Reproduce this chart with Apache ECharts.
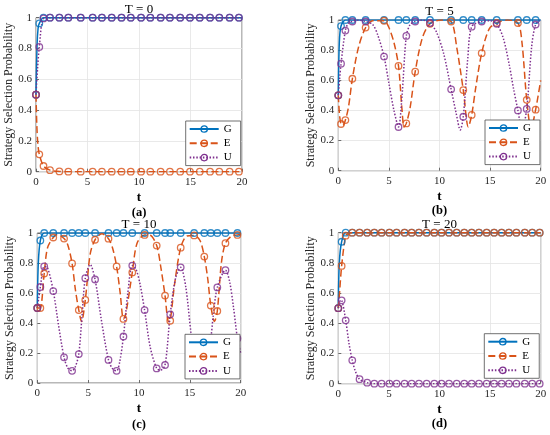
<!DOCTYPE html>
<html>
<head>
<meta charset="utf-8">
<script src="https://cdn.jsdelivr.net/npm/echarts@6/dist/echarts.min.js"></script>
<style>
  html, body { margin: 0; padding: 0; background: #fff; }
  #chart { width: 550px; height: 435px; }
</style>
</head>
<body>
<div id="chart"></div>
<script>
// ---- 数据：每个子图的标记点时刻（三条曲线共用）与各曲线取值 ----
// (a) T = 0
var tA = [0, 0.32, 0.73, 1.36, 2.27, 3.14, 4.34, 5.5, 6.4, 7.35, 8.3, 9.2,
          10.2, 11.1, 12.1, 13.0, 14.0, 14.95, 15.9, 16.9, 17.8, 18.8, 19.7];
var gA = [0.5, 0.963, 1, 1, 1, 1, 1, 1, 1, 1, 1, 1,
          1, 1, 1, 1, 1, 1, 1, 1, 1, 1, 1];
var eA = [0.5, 0.113, 0.037, 0.01, 0.002, 0, 0, 0, 0, 0, 0, 0,
          0, 0, 0, 0, 0, 0, 0, 0, 0, 0, 0];
var uA = [0.5, 0.81, 0.995, 1, 1, 1, 1, 1, 1, 1, 1, 1,
          1, 1, 1, 1, 1, 1, 1, 1, 1, 1, 1];
// 标记点之间的曲线拐点
var gAx = [[0.1, 0.82], [0.2, 0.93], [20, 1]];
var eAx = [[0.08, 0.3], [0.18, 0.18], [20, 0]];
var uAx = [[0.15, 0.67], [20, 1]];

// (b) T = 5
var tB = [0, 0.27, 0.7, 1.39, 2.7, 4.52, 5.95, 6.72, 7.6, 9.06, 11.15, 12.35,
          13.18, 14.17, 15.65, 17.75, 18.62, 19.5];
var gB = [0.5, 0.96, 1, 1, 1, 1, 1, 1, 1, 1, 1, 1,
          1, 1, 1, 1, 1, 1];
var eB = [0.5, 0.31, 0.336, 0.61, 0.95, 0.995, 0.695, 0.314, 0.657, 0.975, 0.99, 0.535,
          0.37, 0.78, 0.98, 0.98, 0.47, 0.405];
var uB = [0.5, 0.71, 0.93, 0.99, 0.99, 0.757, 0.29, 0.894, 0.99, 0.98, 0.54, 0.358,
          0.956, 0.99, 0.975, 0.40, 0.41, 0.97];
var gBx = [[0.1, 0.85], [20, 1]];
var eBx = [[0.12, 0.37], [0.45, 0.3], [1.0, 0.42], [2.0, 0.82], [3.4, 0.995], [5.0, 0.95],
           [5.5, 0.85], [6.3, 0.4], [6.5, 0.29], [7.1, 0.42], [8.3, 0.88], [10.2, 1.0],
           [11.7, 0.82], [12.85, 0.29], [13.6, 0.56], [14.9, 0.94], [16.7, 1.0],
           [18.15, 0.85], [19.05, 0.28], [20, 0.6]];
var uBx = [[0.12, 0.6], [1.0, 0.98], [2.0, 1.0], [3.4, 0.97], [3.9, 0.9], [5.0, 0.58],
           [5.5, 0.4], [6.3, 0.5], [7.1, 0.97], [8.3, 1.0], [9.7, 0.92], [10.4, 0.78],
           [11.65, 0.38], [12.05, 0.27], [12.8, 0.75], [15.0, 0.995], [16.3, 0.88],
           [16.9, 0.7], [17.3, 0.55], [18.15, 0.27], [19.1, 0.82], [20, 1.0]];

// (c) T = 10
var tC = [0, 0.3, 0.68, 1.57, 2.63, 3.42, 4.08, 4.72, 5.68, 7.0, 7.8, 8.47,
          9.34, 10.55, 11.74, 12.56, 13.07, 14.1, 15.42, 16.42, 17.06, 17.7, 18.5, 19.68];
var gC = [0.5, 0.95, 1, 1, 1, 1, 1, 1, 1, 1, 1, 1,
          1, 1, 1, 1, 1, 1, 1, 1, 1, 1, 1, 1];
var eC = [0.5, 0.5, 0.73, 0.97, 0.963, 0.797, 0.486, 0.554, 0.955, 0.962, 0.777, 0.427,
          0.737, 0.987, 0.916, 0.583, 0.415, 0.902, 0.984, 0.843, 0.516, 0.48, 0.932, 0.987];
var uC = [0.5, 0.64, 0.777, 0.613, 0.171, 0.081, 0.193, 0.699, 0.69, 0.154, 0.081, 0.31,
          0.783, 0.486, 0.097, 0.12, 0.458, 0.771, 0.2, 0.09, 0.3, 0.637, 0.752, 0.297];
var gCx = [[0.1, 0.8], [20, 1]];
var eCx = [[0.15, 0.5], [1.0, 0.9], [2.0, 0.99], [3.0, 0.92], [3.75, 0.62], [4.35, 0.41],
           [5.2, 0.86], [6.35, 0.995], [7.4, 0.9], [8.15, 0.6], [8.7, 0.46], [9.8, 0.93],
           [11.1, 0.985], [12.15, 0.77], [12.9, 0.41], [13.5, 0.66], [14.7, 0.98],
           [16.0, 0.95], [16.75, 0.7], [17.42, 0.41], [18.1, 0.8], [19.1, 0.98], [20, 0.99]];
var uCx = [[0.15, 0.57], [1.0, 0.77], [2.1, 0.38], [3.0, 0.1], [3.75, 0.11], [4.4, 0.45],
           [5.2, 0.79], [6.3, 0.42], [7.45, 0.09], [8.1, 0.14], [8.9, 0.6], [9.7, 0.76],
           [10.1, 0.66], [11.1, 0.24], [12.1, 0.085], [13.6, 0.7], [14.6, 0.64],
           [15.1, 0.34], [16.0, 0.08], [17.3, 0.45], [18.9, 0.68], [19.3, 0.5], [20, 0.2]];

// (d) T = 20
var tD = [0, 0.33, 0.73, 1.38, 2.1, 2.85, 3.56, 4.28, 5.05, 5.76, 6.55, 7.25, 7.97, 8.73,
          9.49, 10.2, 10.94, 11.7, 12.45, 13.18, 13.9, 14.66, 15.4, 16.14, 16.86, 17.6,
          18.43, 19.16, 19.9];
var gD = [0.5, 0.94, 1, 1, 1, 1, 1, 1, 1, 1, 1, 1, 1, 1,
          1, 1, 1, 1, 1, 1, 1, 1, 1, 1, 1, 1,
          1, 1, 1];
var eD = [0.5, 0.78, 0.98, 1, 1, 1, 1, 1, 1, 1, 1, 1, 1, 1,
          1, 1, 1, 1, 1, 1, 1, 1, 1, 1, 1, 1,
          1, 1, 1];
var uD = [0.5, 0.552, 0.42, 0.155, 0.03, 0.007, 0, 0, 0, 0, 0, 0, 0, 0,
          0, 0, 0, 0, 0, 0, 0, 0, 0, 0, 0, 0,
          0, 0, 0];
var gDx = [[0.1, 0.8], [20, 1]];
var eDx = [[0.12, 0.6], [1.0, 0.995], [20, 1]];
var uDx = [[0.12, 0.535], [0.22, 0.553], [1.05, 0.27], [1.7, 0.08], [20, 0]];

var seriesNames = ["G", "E", "U"];
var panelTitles = ["T = 0", "T = 5", "T = 10", "T = 20"];
var panelTags = ["(a)", "(b)", "(c)", "(d)"];
var xTicks = [0, 5, 10, 15, 20];
var yTicks = [0, 0.2, 0.4, 0.6, 0.8, 1];

// ---- 布局与样式 ----
var FONT = '"Liberation Serif", "Times New Roman", serif';
var INK = "#262626";
var BOX = "#4d4d4d";
var colors = ["#0072BD", "#D95319", "#7E2F8E"];
var dashes = ["solid", [7, 3.5], [1.5, 1.8]];

var layout = [
    { grid: { left: 36, top: 17.7, width: 206, height: 154 }, titleY: 9.5, tagY: 213, legend: { left: 185.7, top: 121 } },
    { grid: { left: 338.3, top: 20, width: 202.4, height: 150.7 }, titleY: 11.5, tagY: 211, legend: { left: 485, top: 120 } },
    { grid: { left: 37.3, top: 233, width: 203.4, height: 150 }, titleY: 224.3, tagY: 425, legend: { left: 185, top: 334.3 } },
    { grid: { left: 338.3, top: 232.7, width: 202.4, height: 151 }, titleY: 224.3, tagY: 424, legend: { left: 484.3, top: 333.7 } },
];

var panelData = [
    { t: tA, vals: [gA, eA, uA], extra: [gAx, eAx, uAx] },
    { t: tB, vals: [gB, eB, uB], extra: [gBx, eBx, uBx] },
    { t: tC, vals: [gC, eC, uC], extra: [gCx, eCx, uCx] },
    { t: tD, vals: [gD, eD, uD], extra: [gDx, eDx, uDx] },
];

/** 标记点 + 拐点合并成按 t 排序的折线数据 */
function curvePoints(t, vals, extra) {
    var pts = t.map(function (x, i) { return [x, vals[i]]; }).concat(extra);
    pts.sort(function (a, b) { return a[0] - b[0]; });
    return pts;
}

function markerPoints(t, vals) {
    return t.map(function (x, i) { return [x, vals[i]]; });
}

var grids = [], xAxes = [], yAxes = [], series = [], legends = [], graphics = [];

layout.forEach(function (L, i) {
    grids.push(Object.assign({ show: true, borderColor: BOX, borderWidth: 0.8, backgroundColor: "#fff" }, L.grid));

    xAxes.push({
        type: "value", gridIndex: i, min: xTicks[0], max: xTicks[xTicks.length - 1], interval: 5,
        name: "t", nameLocation: "middle", nameGap: 19,
        nameTextStyle: { fontFamily: FONT, fontSize: 13, fontWeight: "bold", color: "#000" },
        axisLine: { show: false },
        axisTick: { inside: true, length: 3, lineStyle: { color: BOX, width: 0.8 } },
        axisLabel: { fontFamily: FONT, fontSize: 11, color: INK, margin: 5 },
        splitLine: { lineStyle: { color: "#e3e3e3", width: 0.8 } },
    });
    yAxes.push({
        type: "value", gridIndex: i, min: yTicks[0], max: yTicks[yTicks.length - 1], interval: 0.2,
        name: "Strategy Selection Probability", nameLocation: "middle", nameGap: 17,
        nameTextStyle: { fontFamily: FONT, fontSize: 12, color: INK },
        axisLine: { show: false },
        axisTick: { inside: true, length: 3, lineStyle: { color: BOX, width: 0.8 } },
        axisLabel: { fontFamily: FONT, fontSize: 11, color: INK, margin: 4 },
        splitLine: { lineStyle: { color: "#e3e3e3", width: 0.8 } },
    });

    // 标题与子图编号
    var cx = L.grid.left + L.grid.width / 2;
    graphics.push({
        type: "text", x: cx, y: L.titleY,
        style: { text: panelTitles[i], align: "center", verticalAlign: "middle", font: "13px " + FONT, fill: "#000" },
    });
    graphics.push({
        type: "text", x: cx, y: L.tagY,
        style: { text: panelTags[i], align: "center", verticalAlign: "middle", font: "bold 12.5px " + FONT, fill: "#000" },
    });

    // 图例（压在曲线之上）
    legends.push({
        data: seriesNames, orient: "vertical", left: L.legend.left, top: L.legend.top, z: 20,
        padding: [2, 9, 2, 3], itemGap: 2.3, itemWidth: 29, itemHeight: 8,
        backgroundColor: "#fff", borderColor: BOX, borderWidth: 0.8, borderRadius: 0,
        textStyle: { fontFamily: FONT, fontSize: 11, color: "#000", lineHeight: 12 },
        itemStyle: { color: "rgba(0,0,0,0)", borderWidth: 1.3 },
        selectedMode: false,
    });
});

// 四个子图的曲线与标记（按 G、E、U 顺序绘制，U 在最上层）
for (var k = 0; k < 4; k++) {
    var P = panelData[k];
    for (var s = 0; s < 3; s++) {
        series.push({
            name: seriesNames[s], type: "line", xAxisIndex: k, yAxisIndex: k,
            data: curvePoints(P.t, P.vals[s], P.extra[s]),
            smooth: 0.3, showSymbol: false, symbol: "circle", symbolSize: 6.5,
            lineStyle: { color: colors[s], width: 1.5, type: dashes[s] },
            itemStyle: { color: colors[s], borderColor: colors[s], borderWidth: 1.3 },
            silent: true, z: 2,
        });
        series.push({
            name: seriesNames[s] + "-mk", type: "scatter", xAxisIndex: k, yAxisIndex: k,
            data: markerPoints(P.t, P.vals[s]),
            symbol: "circle", symbolSize: 6.5, clip: false,
            itemStyle: { color: "rgba(0,0,0,0)", borderColor: colors[s], borderWidth: 1.3 },
            silent: true, z: 2,
        });
    }
}

var chart = echarts.init(document.getElementById("chart"), null, { renderer: "canvas" });
chart.setOption({
    backgroundColor: "#fff",
    animation: false,
    grid: grids,
    xAxis: xAxes,
    yAxis: yAxes,
    legend: legends,
    series: series,
    graphic: graphics,
});
</script>
</body>
</html>
